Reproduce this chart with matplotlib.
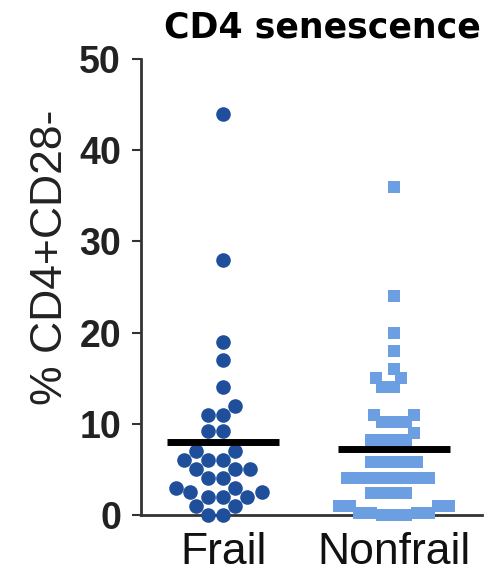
import numpy as np
import pandas as pd
import matplotlib
matplotlib.use('Agg')
import matplotlib.pyplot as plt
import seaborn as sns

# % CD4+CD28- cells per subject
groups = ['Frail', 'Nonfrail']
frail = [44, 28, 19, 17, 14, 12, 11, 11, 9.2, 9.2,
         7, 7, 6, 6, 6, 5, 5, 5, 4, 4, 3, 3, 2.5, 2.5,
         2, 2, 2, 1, 1, 0, 0]
nonfrail = [36, 24, 20, 18, 16, 15, 15, 14, 14, 11, 11,
            10.2, 10.2, 10.2, 9, 8.2, 8.2, 8.2, 8.2,
            5.8, 5.8, 5.8, 5.8, 5.8,
            4.0, 4.0, 4.0, 4.0, 4.0, 4.0, 4.0, 4.0,
            2.4, 2.4, 2.4, 2.4,
            1.0, 1.0, 1.0, 1.0,
            0.2, 0.2, 0.2, 0.2, 0, 0, 0]
yticks = [0, 10, 20, 30, 40, 50]

frail_col = '#1f4e9b'
nonfrail_col = '#6b9fe2'

df = pd.DataFrame({'group': ['Frail'] * len(frail) + ['Nonfrail'] * len(nonfrail),
                   'value': frail + nonfrail})

plt.rcParams['font.family'] = 'Liberation Sans'

fig = plt.figure(figsize=(5.04, 5.72), dpi=100)
ax = fig.add_axes([0.2798, 0.0997, 0.6766, 0.7972])

sns.swarmplot(data=df[df.group == 'Frail'], x='group', y='value', order=groups,
              marker='o', size=10.5, color=frail_col, linewidth=0,
              ax=ax, clip_on=False, zorder=3)
sns.swarmplot(data=df[df.group == 'Nonfrail'], x='group', y='value', order=groups,
              marker='s', size=8, color=nonfrail_col, linewidth=0,
              ax=ax, clip_on=False, zorder=3)

# mean bars
for i, vals in enumerate([frail, nonfrail]):
    ax.hlines(np.mean(vals), i - 0.33, i + 0.33, color='black', lw=5,
              zorder=5, capstyle='butt')

ax.set_xlim(-0.48, 1.515)
ax.set_ylim(0, 50)
ax.set_yticks(yticks)
ax.set_xlabel('')
ax.set_ylabel('% CD4+CD28-', fontsize=32, color='#222222')
ax.yaxis.set_label_coords(-0.205, 0.565)

for s in ['top', 'right']:
    ax.spines[s].set_visible(False)
for s in ['left', 'bottom']:
    ax.spines[s].set_linewidth(2)
    ax.spines[s].set_color('#333333')

ax.tick_params(axis='y', length=6.5, width=1.5, pad=8, labelsize=27,
               colors='#333333', labelcolor='#222222')
ax.tick_params(axis='x', length=3.6, width=1.5, pad=8.5, labelsize=32,
               colors='#333333', labelcolor='#111111')
for lab in ax.get_yticklabels():
    lab.set_fontweight('bold')

fig.text(0.639, 0.935, 'CD4 senescence', ha='center', va='baseline',
         fontsize=25, fontweight='bold', family='DejaVu Sans')

fig.savefig('out.png', dpi=100)
